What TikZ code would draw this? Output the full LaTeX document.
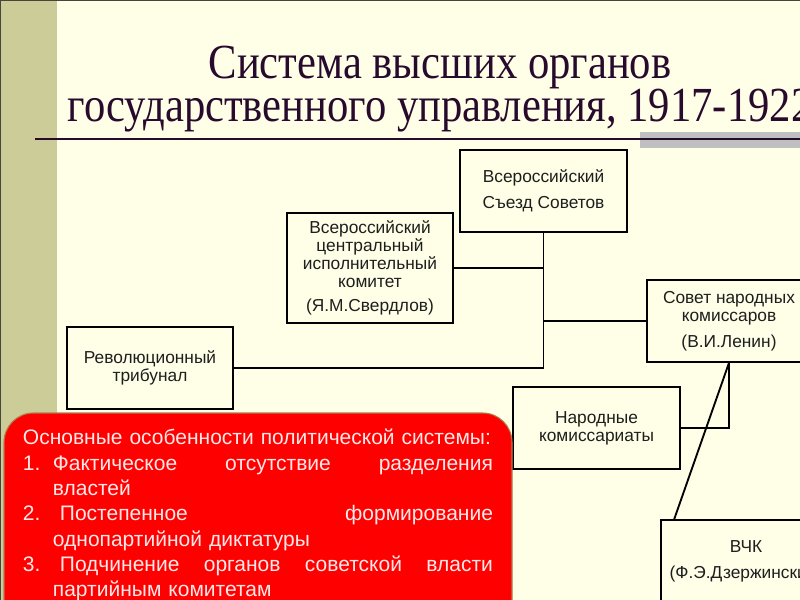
\documentclass[tikz,border=0pt]{standalone}
\usepackage{fontspec}
\setmainfont{Liberation Serif}
\newfontfamily\boxfont{Liberation Sans}
\newfontfamily\titlefont[FakeStretch=0.87]{Liberation Serif}

\definecolor{slidebg}{RGB}{255,255,232}
\definecolor{stripcol}{RGB}{204,204,153}
\definecolor{framecol}{RGB}{70,70,60}
\definecolor{titlecol}{RGB}{40,10,45}
\definecolor{barcol}{RGB}{191,191,191}
\definecolor{boxtext}{RGB}{30,30,30}
\definecolor{featred}{RGB}{255,0,0}
\definecolor{feattext}{RGB}{255,232,232}
\definecolor{featedge}{RGB}{175,125,80}

\begin{document}
\begin{tikzpicture}[x=0.75pt,y=0.75pt,yscale=-1,xscale=1,
  organ/.style={draw, line width=1.2pt, fill=slidebg, align=center, inner sep=2pt,
    text=boxtext, font=\boxfont\fontsize{13}{13.5}\selectfont},
  link/.style={line width=1.4pt},
  featpanel/.style={fill=featred, draw=featedge, line width=0.8pt, rounded corners=22pt},
  features/.style={text width=352.5pt, align=left, inner xsep=14pt, inner ysep=12pt,
    text=feattext, font=\boxfont\fontsize{15.75}{19}\selectfont}]
\useasboundingbox (0,0) rectangle (800,600);
\clip (0,0) rectangle (800,600);

%Slide background
\fill[slidebg] (0,0) rectangle (800,600);
\fill[stripcol] (0,0) rectangle (57,600);
\draw[framecol, line width=1.5pt] (0,600) -- (0,0) -- (800,0);

% Text Node
\node[inner sep=0pt, align=center, text=titlecol, font=\titlefont\fontsize{36.75}{32.25}\selectfont] (title) at (440,88.6)
  {Система высших органов\\государственного управления, 1917-1922};

%Straight Lines
\fill[barcol] (640,132) rectangle (800,148);
\draw[titlecol, line width=1.5pt] (35,139) -- (800,139);

%Shape: Rectangle
\node[organ, minimum width=125.25pt, minimum height=61.5pt] (sezd) at (543.5,191)
  {Всероссийский\\[6pt]Съезд Советов};
%Shape: Rectangle
\node[organ, minimum width=124.5pt, minimum height=82.5pt] (vcik) at (370,268)
  {Всероссийский\\центральный\\исполнительный\\комитет\\[5pt](Я.М.Свердлов)};
%Shape: Rectangle
\node[organ, minimum width=123pt, minimum height=61.5pt] (snk) at (729,321)
  {Совет народных\\комиссаров\\[6pt](В.И.Ленин)};
%Shape: Rectangle
\node[organ, minimum width=124.5pt, minimum height=61.5pt] (tribunal) at (150,368)
  {Революционный\\трибунал};
%Shape: Rectangle
\node[organ, minimum width=125.25pt, minimum height=61.5pt] (narkom) at (596.5,428)
  {Народные\\комиссариаты};
%Shape: Rectangle
\node[organ, minimum width=127.5pt, minimum height=61.5pt] (vchk) at (746,561)
  {ВЧК\\[6pt](Ф.Э.Дзержинский)};

%Straight Lines
\draw[link] (sezd.south) |- (tribunal.east);
\draw[link] (vcik.east) -- (vcik.east -| sezd.south);
\draw[link] (snk.west) -- (snk.west -| sezd.south);
\draw[link] (snk.south) |- (narkom.east);
\draw[link] (snk.south) -- ([xshift=10.5pt]vchk.north west);

%Shape: Rounded Rect
\draw[featpanel] (4,413) rectangle (512,660);
% Text Node
\node[features, anchor=north west] (features) at (4,413)
  {Основные особенности политической системы:\\
   \makebox[22.5pt][l]{1.}Фактическое\hfill отсутствие\hfill разделения\\
   \hspace*{22.5pt}властей\\
   \makebox[22.5pt][l]{2.}\ Постепенное\hfill формирование\\
   \hspace*{22.5pt}однопартийной диктатуры\\
   \makebox[22.5pt][l]{3.}\ Подчинение\hfill органов\hfill советской\hfill власти\\
   \hspace*{22.5pt}партийным комитетам};

\end{tikzpicture}
\end{document}
